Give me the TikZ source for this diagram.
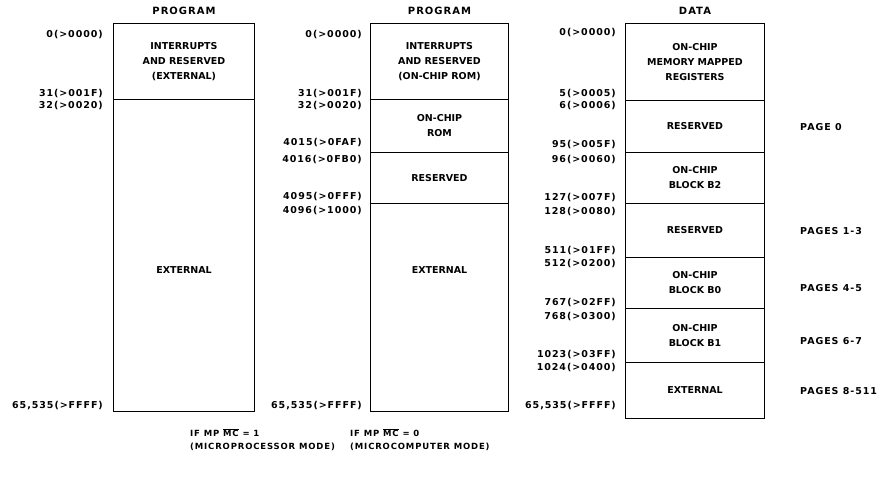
\documentclass[tikz,border=0pt]{standalone}
\usepackage{fontspec}
\setmainfont{DejaVu Sans}
\newfontfamily\spacedfont{DejaVu Sans}[LetterSpace=10]
\usetikzlibrary{positioning}

\begin{document}
\begin{tikzpicture}[x=1pt, y=-1pt,
			blk/.style={draw, line width=1pt, anchor=north west, inner sep=0pt, align=center, font=\fontsize{9.5}{15}\selectfont\bfseries},
			blktxt/.style={inner sep=0pt, font=\fontsize{9.5}{15}\selectfont\bfseries},
			addr/.style={anchor=east, inner sep=0pt, font=\spacedfont\fontsize{9.5}{11}\selectfont\bfseries},
			pg/.style={anchor=west, inner sep=0pt, font=\spacedfont\fontsize{9.5}{11}\selectfont\bfseries},
			hdr/.style={inner sep=0pt, font=\spacedfont\fontsize{10}{12}\selectfont\bfseries},
			mode/.style={anchor=north west, inner sep=0pt, align=left, font=\spacedfont\fontsize{8.5}{13}\selectfont\bfseries}
			]
			\useasboundingbox (0,0) rectangle (890,480);
			
			\node[blk, minimum width=141pt, minimum height=76pt] (p1int) at (113,23) {INTERRUPTS\\AND RESERVED\\(EXTERNAL)};
			\node[blk, minimum width=141pt, minimum height=312pt, label={[blktxt, yshift=-15pt]center:EXTERNAL}] (p1ext) at (113,99) {};
			\node[hdr, above=8pt of p1int] (h1) {PROGRAM};
			\foreach \t/\y [count=\i] in {0(>0000)/35, 31(>001F)/94, 32(>0020)/106, {65,535(>FFFF)}/406}
				\node[addr] (a1-\i) at (103,\y) {\t};
			\node[mode] (m1) at (190,428) {IF MP $\overline{\hbox{MC}}$ = 1\\(MICROPROCESSOR MODE)};
			
			\node[blk, minimum width=138pt, minimum height=76pt] (p2int) at (370,23) {INTERRUPTS\\AND RESERVED\\(ON-CHIP ROM)};
			\node[blk, minimum width=138pt, minimum height=53pt] (p2rom) at (370,99) {ON-CHIP\\ROM};
			\node[blk, minimum width=138pt, minimum height=51pt] (p2res) at (370,152) {RESERVED};
			\node[blk, minimum width=138pt, minimum height=208pt, label={[blktxt, yshift=37pt]center:EXTERNAL}] (p2ext) at (370,203) {};
			\node[hdr, above=8pt of p2int] (h2) {PROGRAM};
			\foreach \t/\y [count=\i] in {0(>0000)/35, 31(>001F)/94, 32(>0020)/106, 4015(>0FAF)/143, 4016(>0FB0)/160,
				4095(>0FFF)/197, 4096(>1000)/211, {65,535(>FFFF)}/406}
				\node[addr] (a2-\i) at (362,\y) {\t};
			\node[mode] (m2) at (350,428) {IF MP $\overline{\hbox{MC}}$ = 0\\(MICROCOMPUTER MODE)};
			
			\node[blk, minimum width=139pt, minimum height=77pt] (dmmr) at (625,23) {ON-CHIP\\MEMORY MAPPED\\REGISTERS};
			\node[blk, minimum width=139pt, minimum height=52pt] (dres1) at (625,100) {RESERVED};
			\node[blk, minimum width=139pt, minimum height=51pt] (db2) at (625,152) {ON-CHIP\\BLOCK B2};
			\node[blk, minimum width=139pt, minimum height=54pt] (dres2) at (625,203) {RESERVED};
			\node[blk, minimum width=139pt, minimum height=51pt] (db0) at (625,257) {ON-CHIP\\BLOCK B0};
			\node[blk, minimum width=139pt, minimum height=54pt] (db1) at (625,308) {ON-CHIP\\BLOCK B1};
			\node[blk, minimum width=139pt, minimum height=56pt] (dext) at (625,362) {EXTERNAL};
			\node[hdr, above=8pt of dmmr] (h3) {DATA};
			\foreach \t/\y [count=\i] in {0(>0000)/33, 5(>0005)/94, 6(>0006)/106, 95(>005F)/145, 96(>0060)/160,
				127(>007F)/198, 128(>0080)/212, 511(>01FF)/251, 512(>0200)/264, 767(>02FF)/303, 768(>0300)/317,
				1023(>03FF)/355, 1024(>0400)/368, {65,535(>FFFF)}/406}
				\node[addr] (a3-\i) at (616,\y) {\t};
			
			\node[pg] (pg0) at (800,127) {PAGE 0};
			\node[pg] (pg1) at (800,231) {PAGES 1-3};
			\node[pg] (pg4) at (800,288) {PAGES 4-5};
			\node[pg] (pg6) at (800,341) {PAGES 6-7};
			\node[pg] (pg8) at (800,391) {PAGES 8-511};
		\end{tikzpicture}
\end{document}
